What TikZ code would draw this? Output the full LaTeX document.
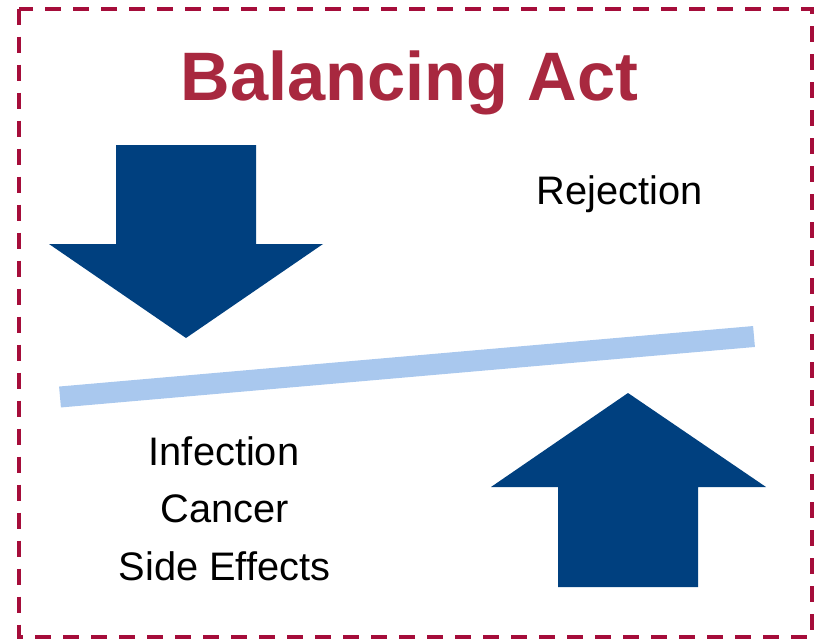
\documentclass[tikz,border=0pt]{standalone}
\usepackage{fontspec}
\setmainfont{Liberation Sans}
\definecolor{framered}{HTML}{A50D3A}
\definecolor{titlered}{HTML}{A8283F}
\definecolor{arrowblue}{HTML}{00407F}
\definecolor{barblue}{HTML}{A9C8EE}
\tikzset{
  titletext/.style={font=\fontsize{68.6}{80}\selectfont\bfseries, text=titlered, inner sep=0pt, anchor=base},
  labeltext/.style={font=\fontsize{39.8}{46}\selectfont, text=black, inner sep=0pt, anchor=base},
  bigarrow/.style={fill=arrowblue, draw=none},
  frame/.style={draw=framered, line width=4pt, dash pattern=on 16pt off 12pt},
  beam/.style={draw=barblue, line width=21pt}
}
\begin{document}
\begin{tikzpicture}[x=1pt,y=-1pt]
\useasboundingbox (0,0) rectangle (819,640);
\draw[frame] (19,8.5) rectangle (812,636.5);
\node[titletext] (title) at (409.5,100.5) {Balancing Act};
\node[labeltext] (rejection) at (619.5,204) {Rejection};
\node[labeltext] (infection) at (224,465) {Infection};
\node[labeltext] (cancer) at (225,522) {Cancer};
\node[labeltext] (side) at (224.5,580) {Side Effects};
% down arrow
\fill[bigarrow] (116,145) -- (256,145) -- (256,244) -- (323,244) -- (186,338) -- (49,244) -- (116,244) -- cycle;
% beam
\coordinate (beamL) at (60,397);
\coordinate (beamR) at (754,336.5);
\draw[beam] (beamL) -- (beamR);
% up arrow
\fill[bigarrow] (558,587) -- (698,587) -- (698,487) -- (766,487) -- (628,393) -- (491,487) -- (558,487) -- cycle;
\end{tikzpicture}
\end{document}
